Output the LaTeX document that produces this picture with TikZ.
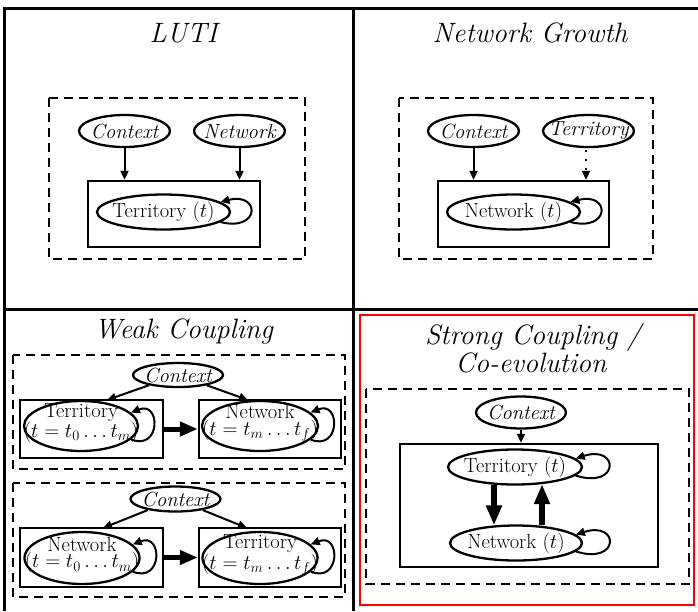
\documentclass[tikz,border=0pt]{standalone}
\usetikzlibrary{arrows.meta,calc,shapes.geometric}
\begin{document}
\begin{tikzpicture}[x=1pt,y=-1pt,
  frame/.style={line width=3pt},
  dbox/.style={draw,dash pattern=on 9pt off 6pt,line width=2.4pt},
  sbox/.style={draw,line width=2.4pt,inner sep=0pt},
  el/.style={draw,ellipse,inner sep=0pt,line width=2.3pt},
  title/.style={font=\fontsize{28}{30}\selectfont\itshape,anchor=base,inner sep=0pt},
  lab/.style={font=\fontsize{20.5}{15}\selectfont,align=center,inner sep=0pt},
  labi/.style={font=\fontsize{20.5}{15}\selectfont\itshape,align=center,inner sep=0pt},
  arr/.style={line width=2pt,-{Triangle[length=9pt,width=8pt]}},
  warr/.style={line width=5pt,-{Triangle[length=18pt,width=14pt]}},
  sarr/.style={line width=5.5pt,-{Triangle[length=20pt,width=15pt]}},
]
\useasboundingbox (0,0) rectangle (698,611);

% ---------- table frame ----------
\draw[frame] (4,611) -- (4,8) -- (698,8);
\draw[frame] (353,8) -- (353,611);
\draw[frame] (4,309) -- (698,309);
\draw[red,line width=2pt] (360,315) rectangle (694,605);

% ---------- LUTI ----------
\node[title] (t1) at (183.5,42) {LUTI};
\draw[dbox] (49,98) rectangle (305,259);
\node[sbox,minimum width=172pt,minimum height=66pt] (lbox) at (174,214) {};
\node[el,minimum width=91pt,minimum height=32pt] (lctx) at (124.5,131) {};
\node[labi] (lctxT) at (lctx) {Context};
\node[el,minimum width=91pt,minimum height=32pt] (lnet) at (239.5,131) {};
\node[labi] (lnetT) at (lnet) {Network};
\node[el,minimum width=133pt,minimum height=35pt] (lter) at (163.5,212) {};
\node[lab] (lterT) at (lter) {Territory $(t)$};
\draw[arr] (lctx) -- (lctx |- lbox.north);
\draw[arr] (lnet) -- (lnet |- lbox.north);
\draw[arr] (lter.-10) .. controls +(40,10) and +(40,-10) .. (lter.10);

% ---------- Network Growth ----------
\node[title] (t2) at (530,42) {Network Growth};
\draw[dbox] (399,98) rectangle (653,259);
\node[sbox,minimum width=171pt,minimum height=66pt] (gbox) at (523.5,214) {};
\node[el,minimum width=91pt,minimum height=32pt] (gctx) at (473.5,131) {};
\node[labi] (gctxT) at (gctx) {Context};
\node[el,minimum width=91pt,minimum height=32pt] (gter) at (588.5,131) {};
\node[labi] (gterT) at (gter) {Territory};
\node[el,minimum width=133pt,minimum height=35pt] (gnet) at (513.5,212) {};
\node[lab] (gnetT) at (gnet) {Network $(t)$};
\draw[arr] (gctx) -- (gctx |- gbox.north);
\coordinate (gterB) at (586,150);
\draw[arr,dash pattern=on 2pt off 7pt] (gterB) -- (gterB |- gbox.north);
\draw[arr] (gnet.-10) .. controls +(40,10) and +(40,-10) .. (gnet.10);

% ---------- Weak Coupling ----------
\node[title] (t3) at (183.7,338) {Weak Coupling};
% first
\draw[dbox] (13,355) rectangle (345,469);
\node[el,minimum width=90pt,minimum height=24pt] (wctx1) at (178,375) {};
\node[labi] (wctx1T) at (wctx1) {Context};
\node[sbox,minimum width=143pt,minimum height=58pt] (wb1l) at (91.5,429) {};
\node[sbox,minimum width=142pt,minimum height=58pt] (wb1r) at (270,429) {};
\node[el,minimum width=114pt,minimum height=50pt] (wter1) at (81,426) {};
\node[lab] (wter1T) at (81,423) {Territory\\$(t=t_0\ldots t_m)$};
\node[el,minimum width=116pt,minimum height=50pt] (wnet1) at (260,426) {};
\node[lab] (wnet1T) at (260,423) {Network\\$(t=t_m\ldots t_f)$};
\coordinate (w1a) at (107,400);
\coordinate (w1b) at (248,400);
\draw[arr] (wctx1) -- (w1a);
\draw[arr] (wctx1) -- (w1b);
\draw[warr] (wb1l.east) -- (wb1r.west);
\draw[arr] (wter1.-15) .. controls +(30,12) and +(30,-12) .. (wter1.15);
\draw[arr] (wnet1.-15) .. controls +(30,12) and +(30,-12) .. (wnet1.15);
% second
\draw[dbox] (13,483) rectangle (345,597);
\node[el,minimum width=90pt,minimum height=25pt] (wctx2) at (175.5,499) {};
\node[labi] (wctx2T) at (wctx2) {Context};
\node[sbox,minimum width=143pt,minimum height=59pt] (wb2l) at (91.5,557.5) {};
\node[sbox,minimum width=142pt,minimum height=59pt] (wb2r) at (270,557.5) {};
\node[el,minimum width=115pt,minimum height=52pt] (wnet2) at (82,558) {};
\node[lab] (wnet2T) at (82,555) {Network\\$(t=t_0\ldots t_m)$};
\node[el,minimum width=115pt,minimum height=52pt] (wter2) at (260,558) {};
\node[lab] (wter2T) at (260,555) {Territory\\$(t=t_m\ldots t_f)$};
\coordinate (w2a) at (103,528);
\coordinate (w2b) at (247,528);
\draw[arr] (wctx2) -- (w2a);
\draw[arr] (wctx2) -- (w2b);
\draw[warr] (wb2l.east) -- (wb2r.west);
\draw[arr] (wnet2.-15) .. controls +(30,12) and +(30,-12) .. (wnet2.15);
\draw[arr] (wter2.-15) .. controls +(30,12) and +(30,-12) .. (wter2.15);

% ---------- Strong Coupling ----------
\node[title] (t4a) at (533,344) {Strong Coupling /};
\node[title] (t4b) at (531,372) {Co-evolution};
\draw[dbox] (366,389) rectangle (689,584);
\node[sbox,minimum width=258pt,minimum height=123pt] (sbox) at (529,505.5) {};
\node[el,minimum width=90pt,minimum height=32pt] (sctx) at (521,412.5) {};
\node[labi] (sctxT) at (sctx) {Context};
\node[el,minimum width=134pt,minimum height=35pt] (ster) at (515,467) {};
\node[lab] (sterT) at (ster) {Territory $(t)$};
\node[el,minimum width=132pt,minimum height=35pt] (snet) at (516,543) {};
\node[lab] (snetT) at (snet) {Network $(t)$};
\draw[arr] (sctx) -- (sctx |- sbox.north);
\draw[sarr] ($(ster.south)+(-21,-1)$) -- ($(snet.north)+(-22,1)$);
\draw[sarr] ($(snet.north)+(26,1)$) -- ($(ster.south)+(27,-1.5)$);
\draw[arr] (ster.-8) .. controls +(44,14) and +(44,-14) .. (ster.8);
\draw[arr] (snet.-8) .. controls +(44,14) and +(44,-14) .. (snet.8);
\end{tikzpicture}
\end{document}
